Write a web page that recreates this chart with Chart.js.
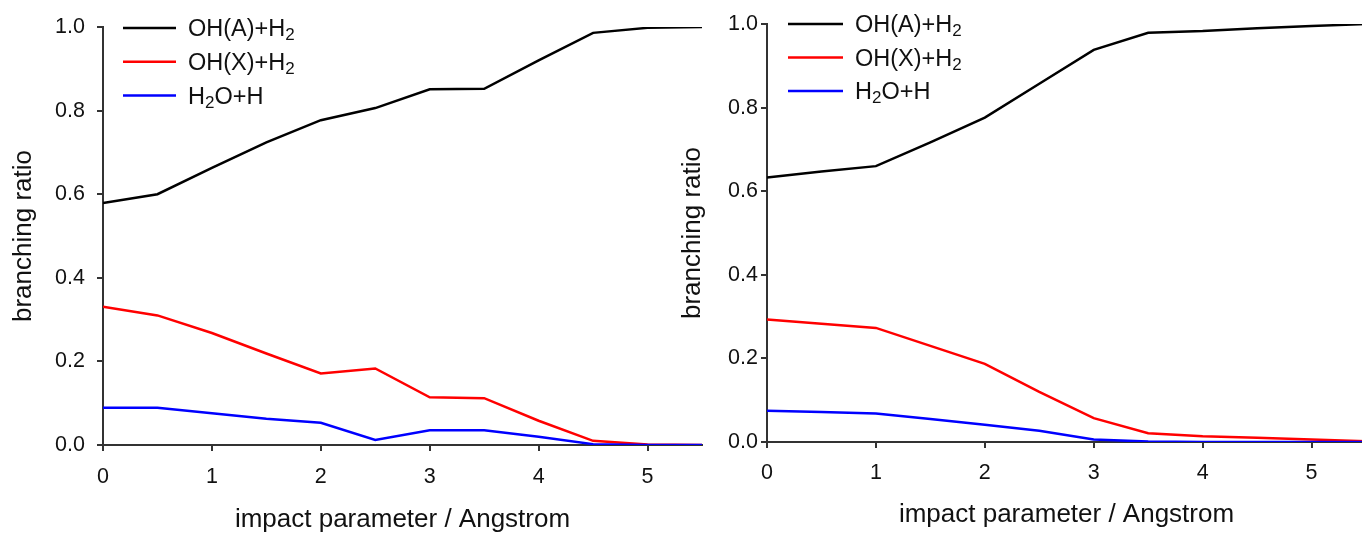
<!DOCTYPE html>
<html>
<head>
<meta charset="utf-8">
<script src="https://cdn.jsdelivr.net/npm/chart.js@4.4.1/dist/chart.umd.min.js"></script>
<style>
  html, body { margin: 0; padding: 0; background: #ffffff; overflow: hidden; }
  #wrap { position: relative; width: 1362px; height: 533px; overflow: hidden; background: #ffffff; }
  canvas { position: absolute; top: 0; }
  #left { left: 0px; }
  #right { left: 670px; }
</style>
</head>
<body>
<div id="wrap">
  <canvas id="left" width="720" height="533"></canvas>
  <canvas id="right" width="710" height="533"></canvas>
</div>
<script>
// ---- data ----
const impactParams = [0, 0.5, 1, 1.5, 2, 2.5, 3, 3.5, 4, 4.5, 5, 5.5];
const seriesLabels = ['OH(A)+H₂', 'OH(X)+H₂', 'H₂O+H'];
const seriesColors = ['#000000', '#ff0000', '#0000ff'];

const leftOHA  = [0.579, 0.600, 0.663, 0.724, 0.777, 0.806, 0.851, 0.852, 0.920, 0.986, 0.998, 1.000];
const leftOHX  = [0.331, 0.310, 0.268, 0.219, 0.171, 0.183, 0.114, 0.112, 0.058, 0.010, 0.001, 0.000];
const leftH2O  = [0.089, 0.089, 0.076, 0.063, 0.053, 0.012, 0.035, 0.035, 0.020, 0.002, 0.000, 0.000];

const rightOHA = [0.633, 0.647, 0.660, 0.717, 0.776, 0.857, 0.938, 0.979, 0.983, 0.990, 0.995, 1.000];
const rightOHX = [0.293, 0.283, 0.273, 0.230, 0.187, 0.120, 0.057, 0.021, 0.014, 0.010, 0.006, 0.002];
const rightH2O = [0.075, 0.072, 0.068, 0.055, 0.041, 0.027, 0.006, 0.001, 0.000, 0.000, 0.000, 0.000];

const xTickValues = [0, 1, 2, 3, 4, 5];
const yTickValues = [0.0, 0.2, 0.4, 0.6, 0.8, 1.0];
const xTitle = 'impact parameter / Angstrom';
const yTitle = 'branching ratio';

// ---- rendering ----
const FONT = '"Liberation Sans", Arial, sans-serif';
const subMap = {'₀':'0','₁':'1','₂':'2','₃':'3','₄':'4','₅':'5','₆':'6','₇':'7','₈':'8','₉':'9'};

const insideLegend = {
  id: 'insideLegend',
  afterDatasetsDraw(chart, args, o) {
    const {ctx, chartArea} = chart;
    ctx.save();
    chart.data.datasets.forEach((ds, i) => {
      const y = chartArea.top + o.top + i * o.spacing;
      const x0 = chartArea.left + o.lineStart;
      ctx.strokeStyle = ds.borderColor;
      ctx.lineWidth = 2.5;
      ctx.beginPath();
      ctx.moveTo(x0, y);
      ctx.lineTo(x0 + o.lineLength, y);
      ctx.stroke();
      let x = x0 + o.lineLength + o.gap;
      const base = y + o.capShift;
      ctx.fillStyle = '#111111';
      ctx.textBaseline = 'alphabetic';
      ctx.textAlign = 'left';
      const runs = [];
      for (const ch of ds.label) {
        const sub = ch in subMap;
        const c = sub ? subMap[ch] : ch;
        if (runs.length && runs[runs.length - 1].sub === sub) runs[runs.length - 1].t += c;
        else runs.push({sub, t: c});
      }
      runs.forEach(r => {
        ctx.font = (r.sub ? o.subSize : o.size) + 'px ' + FONT;
        ctx.fillText(r.t, x, base + (r.sub ? o.subDrop : 0));
        x += ctx.measureText(r.t).width;
      });
    });
    ctx.restore();
  }
};

function makeChart(id, values, L) {
  const datasets = values.map((vals, i) => ({
    label: seriesLabels[i],
    data: impactParams.map((x, j) => ({x, y: vals[j]})),
    borderColor: seriesColors[i],
    backgroundColor: seriesColors[i],
    borderWidth: 2.5,
    pointRadius: 0,
    tension: 0,
    fill: false,
    order: 2 - i
  }));
  return new Chart(document.getElementById(id), {
    type: 'line',
    data: { datasets },
    options: {
      responsive: false,
      animation: false,
      events: [],
      layout: { padding: { left: 0, top: L.top, right: L.right, bottom: 0 } },
      plugins: {
        legend: { display: false },
        tooltip: { enabled: false },
        insideLegend: L.legend
      },
      scales: {
        x: {
          type: 'linear',
          min: 0, max: 5.5,
          afterBuildTicks: s => { s.ticks = xTickValues.map(v => ({value: v})); },
          afterFit: s => { s.height = L.xHeight; },
          ticks: {
            color: '#111111',
            padding: L.xPad,
            font: { family: FONT, size: 21.5 },
            maxRotation: 0,
            callback: v => String(v)
          },
          grid: { drawOnChartArea: false, drawTicks: true, tickLength: 6, color: '#333333', lineWidth: 2 },
          border: { display: true, color: '#333333', width: 2 },
          title: {
            display: true, text: xTitle, color: '#111111',
            font: { family: FONT, size: 26, lineHeight: 1 },
            padding: { top: 0, bottom: L.xTitlePad }
          }
        },
        y: {
          type: 'linear',
          min: 0, max: 1,
          afterBuildTicks: s => { s.ticks = yTickValues.map(v => ({value: v})); },
          afterFit: s => { s.width = L.yWidth; },
          ticks: {
            color: '#111111',
            padding: L.yPad,
            font: { family: FONT, size: 21.5 },
            callback: v => v.toFixed(1)
          },
          grid: { drawOnChartArea: false, drawTicks: true, tickLength: 6, color: '#333333', lineWidth: 2 },
          border: { display: true, color: '#333333', width: 2 },
          title: {
            display: true, text: yTitle, color: '#111111',
            font: { family: FONT, size: 26, lineHeight: 1 },
            padding: { top: L.yTitlePad, bottom: 0 }
          }
        }
      }
    },
    plugins: [insideLegend]
  });
}

makeChart('left', [leftOHA, leftOHX, leftH2O], {
  top: 27, right: 18, xHeight: 88, yWidth: 103,
  xPad: 13, yPad: 12, xTitlePad: 0, yTitlePad: 11,
  legend: { top: 1, spacing: 33.7, lineStart: 20, lineLength: 53, gap: 12, size: 23.5, subSize: 17, subDrop: 4, capShift: 8.4 }
});
makeChart('right', [rightOHA, rightOHX, rightH2O], {
  top: 24, right: 14, xHeight: 91, yWidth: 97,
  xPad: 12, yPad: 3, xTitlePad: 5, yTitlePad: 10,
  legend: { top: 0, spacing: 33.5, lineStart: 21, lineLength: 55, gap: 12, size: 23.5, subSize: 17, subDrop: 4, capShift: 8.4 }
});
</script>
</body>
</html>
